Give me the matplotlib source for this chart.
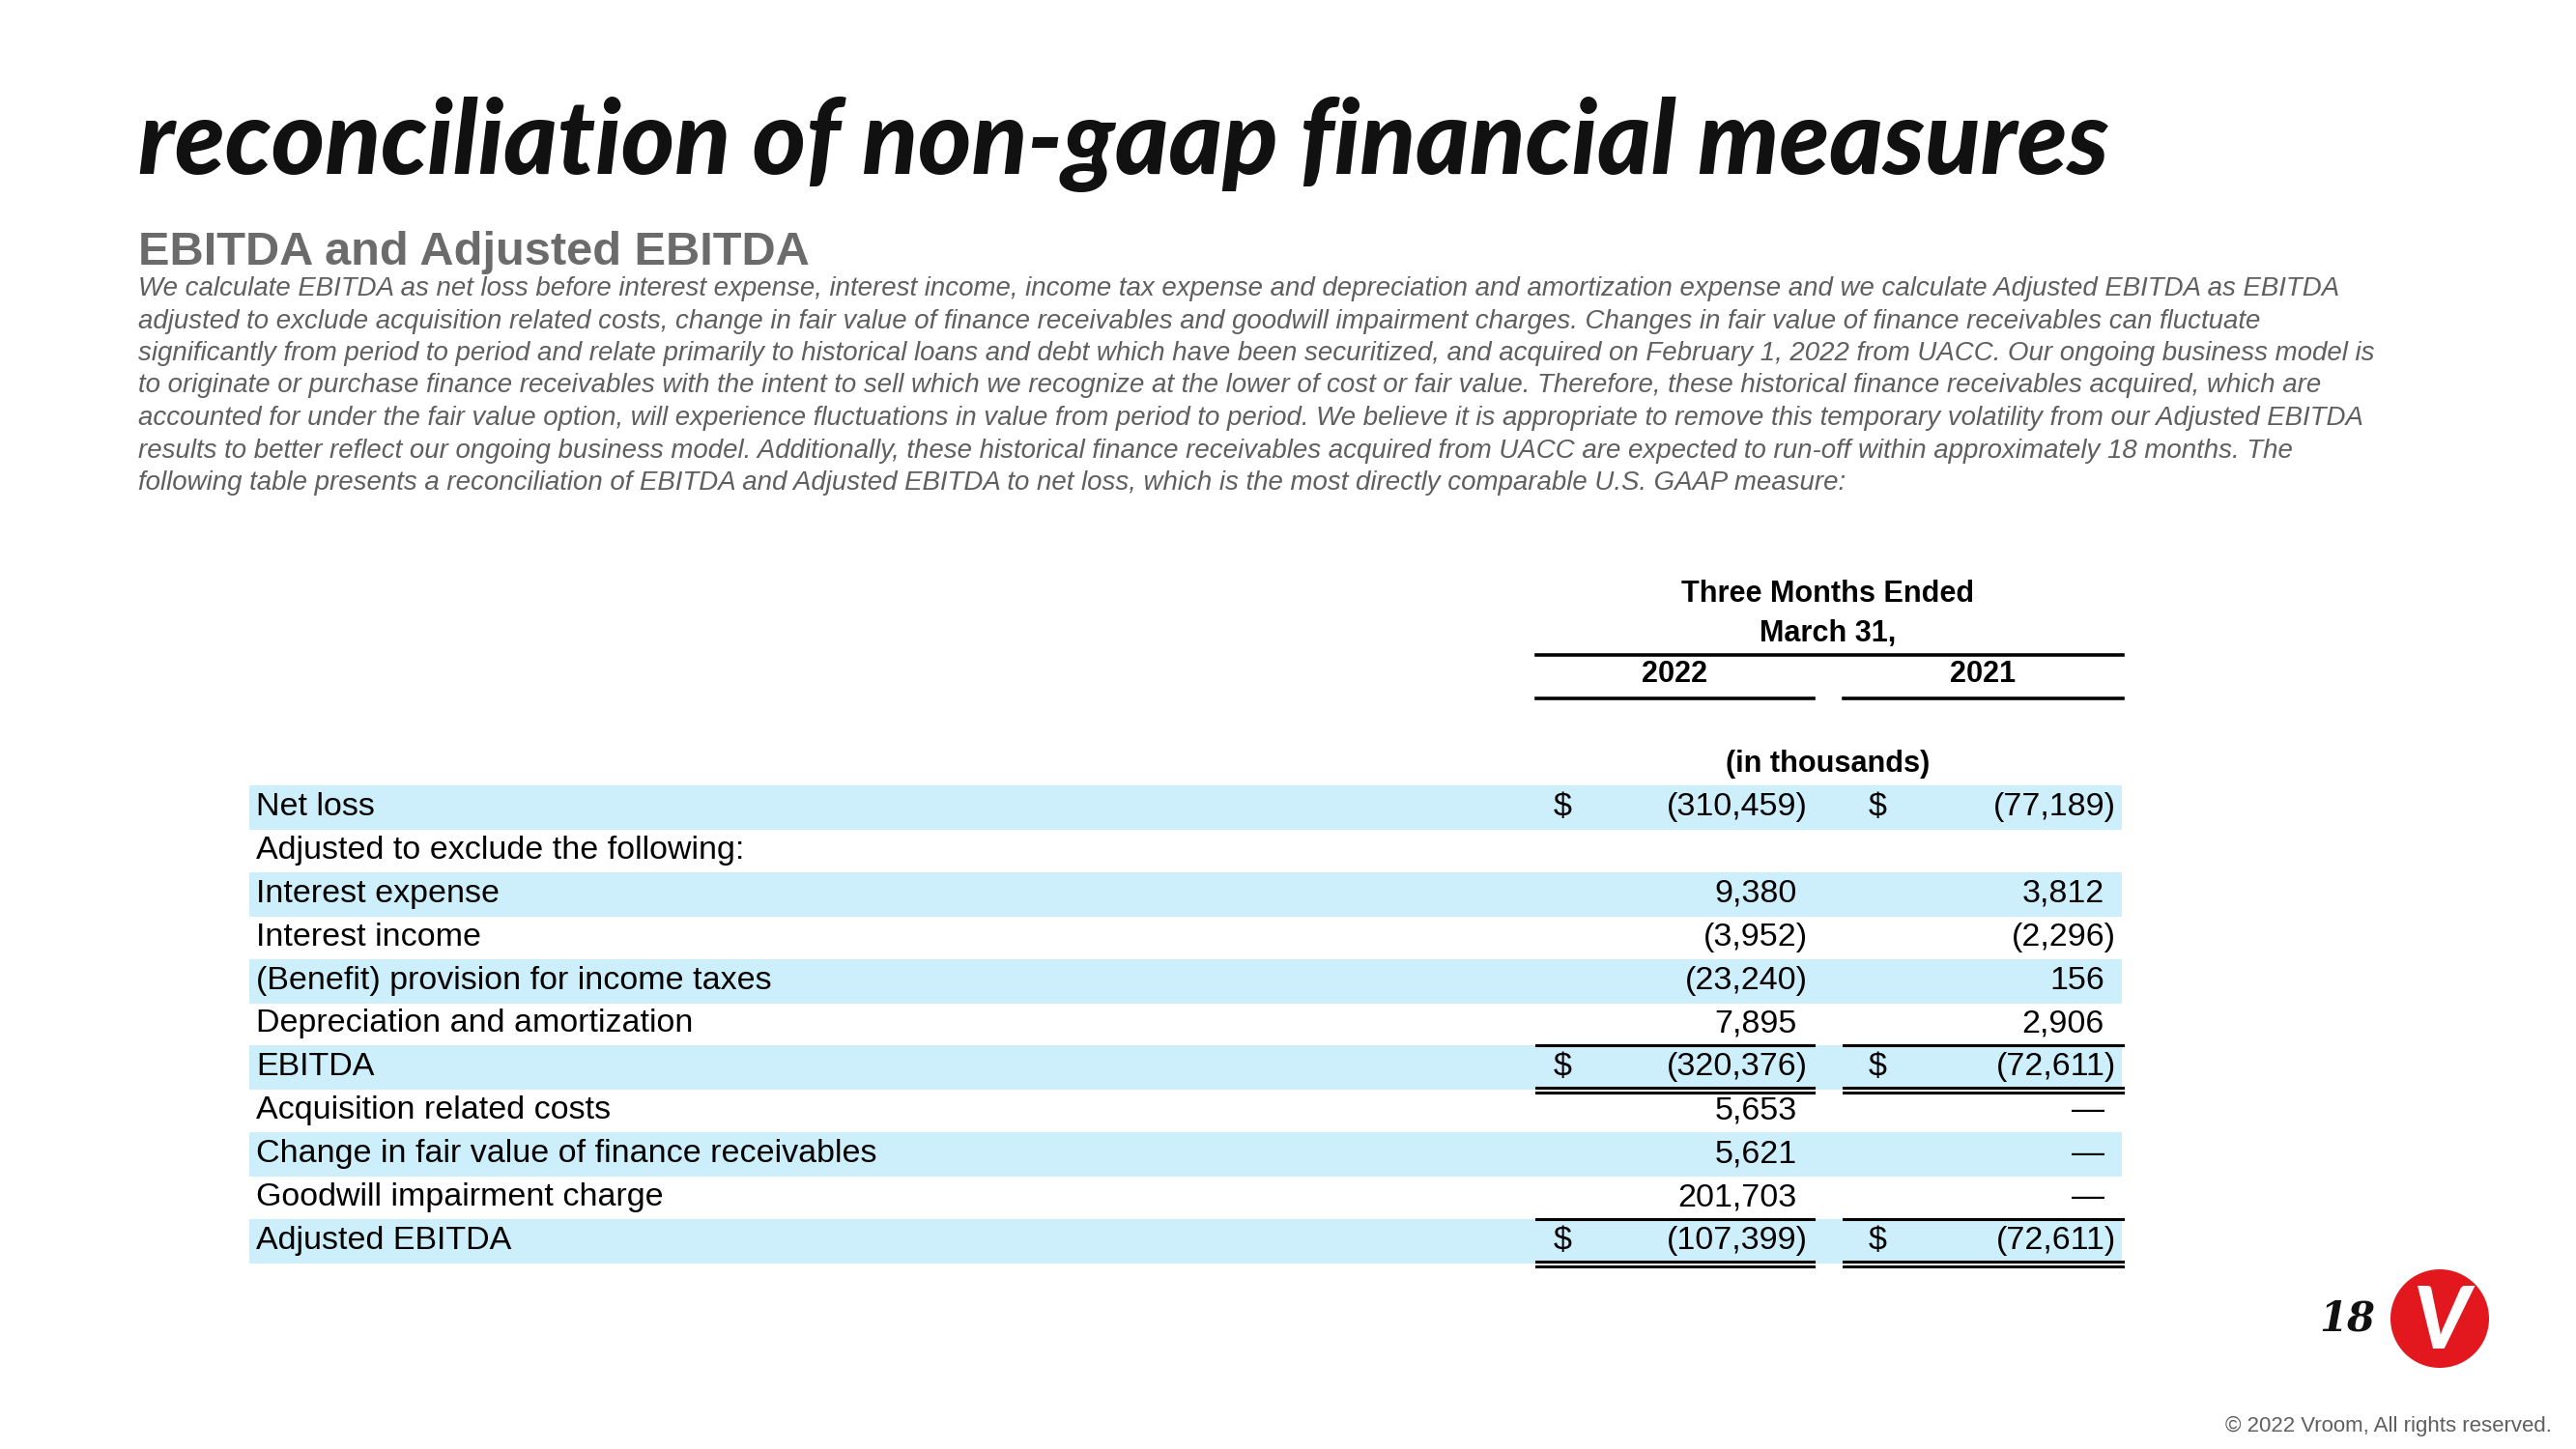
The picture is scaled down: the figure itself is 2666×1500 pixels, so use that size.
import matplotlib
matplotlib.use("Agg")
import matplotlib.pyplot as plt
from matplotlib.patches import Rectangle, Circle

# slide text
title = "reconciliation of non-gaap financial measures"
subtitle = "EBITDA and Adjusted EBITDA"
paragraph = [
    "We calculate EBITDA as net loss before interest expense, interest income, income tax expense and depreciation and amortization expense and we calculate Adjusted EBITDA as EBITDA",
    "adjusted to exclude acquisition related costs, change in fair value of finance receivables and goodwill impairment charges. Changes in fair value of finance receivables can fluctuate",
    "significantly from period to period and relate primarily to historical loans and debt which have been securitized, and acquired on February 1, 2022 from UACC. Our ongoing business model is",
    "to originate or purchase finance receivables with the intent to sell which we recognize at the lower of cost or fair value. Therefore, these historical finance receivables acquired, which are",
    "accounted for under the fair value option, will experience fluctuations in value from period to period. We believe it is appropriate to remove this temporary volatility from our Adjusted EBITDA",
    "results to better reflect our ongoing business model. Additionally, these historical finance receivables acquired from UACC are expected to run-off within approximately 18 months. The",
    "following table presents a reconciliation of EBITDA and Adjusted EBITDA to net loss, which is the most directly comparable U.S. GAAP measure:",
]

# table data (in thousands)
row_labels = ["Net loss", "Adjusted to exclude the following:", "Interest expense",
              "Interest income", "(Benefit) provision for income taxes",
              "Depreciation and amortization", "EBITDA", "Acquisition related costs",
              "Change in fair value of finance receivables", "Goodwill impairment charge",
              "Adjusted EBITDA"]
q1_2022 = [-310459, None, 9380, -3952, -23240, 7895, -320376, 5653, 5621, 201703, -107399]
q1_2021 = [-77189, None, 3812, -2296, 156, 2906, -72611, 0, 0, 0, -72611]
dollar_rows = [0, 6, 10]
total_rows = [6, 10]
years = ["2022", "2021"]

BAND = "#cdeefb"
GRAY = "#5f5f5f"
BODY = "Liberation Sans"

fig = plt.figure(figsize=(26.66, 15), dpi=100)
ax = fig.add_axes([0, 0, 1, 1])
ax.set_xlim(0, 2666)
ax.set_ylim(1500, 0)
ax.axis("off")
renderer = fig.canvas.get_renderer()


def fit(t, width):
    w = t.get_window_extent(renderer).width
    t.set_fontsize(t.get_fontsize() * width / w)
    return t.get_fontsize()


def fmt(v):
    if v == 0:
        return "—"
    s = f"{abs(v):,}"
    return f"({s})" if v < 0 else s


# title block
t = ax.text(143, 180, title, fontsize=60, family="Lato", weight="black",
            style="italic", color="#111111", va="baseline")
fit(t, 2042)
t = ax.text(143, 274, subtitle, fontsize=30, family=BODY, weight="bold",
            color="#6b6b6b", va="baseline")
fit(t, 695)

size = None
for i, line in enumerate(paragraph):
    t = ax.text(143, 306 + i * 33.5, line, fontsize=18, family=BODY,
                style="italic", color=GRAY, va="baseline")
    if i == 0:
        size = fit(t, 2277)
    else:
        t.set_fontsize(size)

# table geometry
top0 = 813
pitch = 44.9
label_x = 265
col_left = [1590, 1908]
col_right = [1877, 2197]
dollar_x = [1617, 1943]
neg_right = [1871, 2190]
pos_right = [1860, 2178]

t = ax.text(label_x, 0, row_labels[8], fontsize=20, family=BODY)
tsize = fit(t, 641)
t.remove()

for i, lab in enumerate(row_labels):
    top = top0 + i * pitch
    yc = top + pitch / 2
    if i % 2 == 0:
        ax.add_patch(Rectangle((258, top), 2196 - 258, pitch + 1, color=BAND, lw=0))
    ax.text(label_x, yc, lab, fontsize=tsize, family=BODY, va="center", color="black")
    for c, vals in enumerate([q1_2022, q1_2021]):
        v = vals[i]
        if v is None:
            continue
        x = neg_right[c] if v < 0 else pos_right[c]
        ax.text(x, yc, fmt(v), fontsize=tsize, family=BODY, va="center", ha="right")
        if i in dollar_rows:
            ax.text(dollar_x[c], yc, "$", fontsize=tsize, family=BODY, va="center", ha="center")

# rules
for c in range(2):
    ax.plot([col_left[c], col_right[c]], [723, 723], color="black", lw=2.6)
    for r in total_rows:
        top = top0 + r * pitch
        ax.plot([col_left[c], col_right[c]], [top, top], color="black", lw=2.2)
        ax.plot([col_left[c], col_right[c]], [top + pitch - 1, top + pitch - 1], color="black", lw=2.2)
        ax.plot([col_left[c], col_right[c]], [top + pitch + 4, top + pitch + 4], color="black", lw=2.2)
ax.plot([col_left[0], col_right[1]], [678, 678], color="black", lw=2.6)

# header
hdr = dict(fontsize=tsize * 0.9, family=BODY, weight="bold", ha="center", va="center")
ax.text(1892, 615, "Three Months Ended", **hdr)
ax.text(1892, 656, "March 31,", **hdr)
for c in range(2):
    ax.text((col_left[c] + col_right[c]) / 2, 698, years[c], **hdr)
ax.text(1892, 791, "(in thousands)", **hdr)

# footer
ax.text(2458, 1366, "18", fontsize=30, family="DejaVu Serif", weight="bold",
        style="italic", ha="right", va="center", color="#111111")
ax.add_patch(Circle((2525, 1365), 51, color="#e3171e", lw=0))
ax.text(2527, 1370, "V", fontsize=64, family="Lato", weight="black", style="italic",
        ha="center", va="center", color="white")
ax.text(2641, 1476, "© 2022 Vroom, All rights reserved.", fontsize=16, family=BODY,
        ha="right", va="center", color=GRAY)

fig.savefig("out.png", dpi=100, facecolor="white")
